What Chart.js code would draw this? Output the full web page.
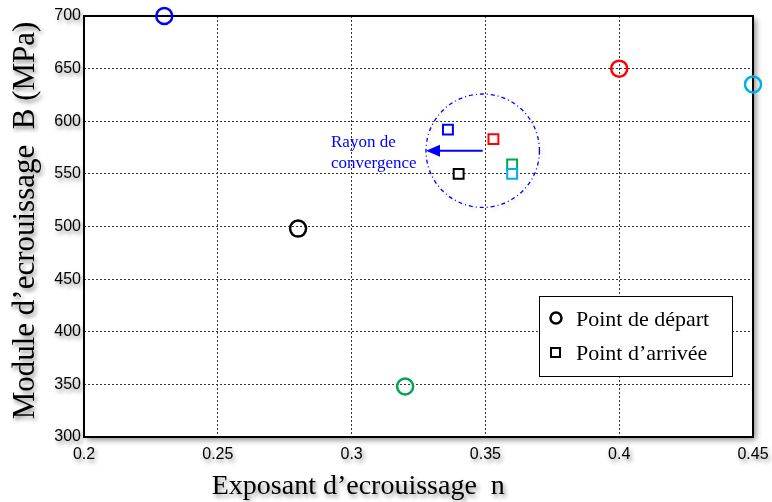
<!DOCTYPE html>
<html lang="fr">
<head>
    <title>Module d'ecrouissage vs exposant</title>
    <meta charset="UTF-8">
    <!-- Chart.js -->
    <script src="https://cdn.jsdelivr.net/npm/chart.js"></script>
    <style>
        html, body { margin: 0; padding: 0; background: #fff; }
        #wrap { width: 772px; height: 502px; }
    </style>
</head>
<body>
    <div id="wrap"><canvas id="chart"></canvas></div>

    <script>
        // Point de départ (cercles)
        const departN = [0.23, 0.28, 0.32, 0.40, 0.45];
        const departB = [700, 498, 348, 650, 635];
        const departColors = ['#0000ff', '#000000', '#00a651', '#ff0000', '#00aeef'];

        // Point d'arrivée (carrés)
        const arriveeN = [0.336, 0.353, 0.36, 0.36, 0.34];
        const arriveeB = [592, 583, 559, 550, 550];
        const arriveeColors = ['#0000ff', '#ff0000', '#00a651', '#00aeef', '#000000'];

        // Axes
        const xTicks = [0.2, 0.25, 0.3, 0.35, 0.4, 0.45];
        const yTicks = [300, 350, 400, 450, 500, 550, 600, 650, 700];
        const xTitle = 'Exposant d’ecrouissage  n';
        const yTitle = 'Module d’ecrouissage  B (MPa)';

        // Rayon de convergence (centre n, B et rayon en unités de n)
        const convergenceCenter = [0.349, 572];
        const convergenceRadius = 0.0212;
        const convergenceText = ['Rayon de', 'convergence'];

        const legendLabels = ['Point de départ', 'Point d’arrivée'];

        const serif = '"Liberation Serif", "Times New Roman", serif';
        const sans = '"Liberation Sans", Arial, sans-serif';

        function setShadow(ctx) {
            ctx.shadowColor = 'rgba(0,0,0,0.45)';
            ctx.shadowBlur = 4;
            ctx.shadowOffsetX = 2;
            ctx.shadowOffsetY = 3;
        }

        function clearShadow(ctx) {
            ctx.shadowColor = 'rgba(0,0,0,0)';
            ctx.shadowBlur = 0;
            ctx.shadowOffsetX = 0;
            ctx.shadowOffsetY = 0;
        }

        // Frame, convergence circle, arrow, legend box, axis titles
        const decorPlugin = {
            id: 'decor',
            beforeDraw(chart) {
                const { ctx, chartArea: a } = chart;
                ctx.save();
                setShadow(ctx);
                ctx.shadowBlur = 6;
                ctx.shadowOffsetX = 3;
                ctx.fillStyle = '#fff';
                ctx.fillRect(a.left, a.top, a.right - a.left, a.bottom - a.top);
                ctx.restore();
            },
            beforeDatasetsDraw(chart) {
                const { ctx, chartArea: a, scales: { x, y } } = chart;

                // frame
                ctx.save();
                ctx.strokeStyle = '#000';
                ctx.lineWidth = 2;
                ctx.strokeRect(a.left, a.top, a.right - a.left, a.bottom - a.top);
                ctx.restore();

                // dash-dot circle
                const cx = x.getPixelForValue(convergenceCenter[0]);
                const cy = y.getPixelForValue(convergenceCenter[1]);
                const r = x.getPixelForValue(convergenceCenter[0] + convergenceRadius) - cx;
                ctx.save();
                ctx.shadowColor = 'rgba(0,0,0,0.2)';
                ctx.shadowBlur = 4;
                ctx.shadowOffsetX = 2;
                ctx.shadowOffsetY = 2;
                ctx.strokeStyle = '#0000ff';
                ctx.lineWidth = 1.3;
                ctx.setLineDash([4, 3, 1, 3]);
                ctx.beginPath();
                ctx.arc(cx, cy, r, 0, Math.PI * 2);
                ctx.stroke();
                ctx.restore();

                // arrow from centre to the left edge
                const tipX = cx - r;
                ctx.save();
                ctx.strokeStyle = '#0000ff';
                ctx.fillStyle = '#0000ff';
                ctx.lineWidth = 2;
                ctx.beginPath();
                ctx.moveTo(cx, cy);
                ctx.lineTo(tipX + 12, cy);
                ctx.stroke();
                ctx.beginPath();
                ctx.moveTo(tipX, cy);
                ctx.lineTo(tipX + 14, cy - 6);
                ctx.lineTo(tipX + 14, cy + 6);
                ctx.closePath();
                ctx.fill();

                ctx.font = '17px ' + serif;
                ctx.textAlign = 'left';
                ctx.textBaseline = 'alphabetic';
                ctx.fillText(convergenceText[0], tipX - 95, cy - 4);
                ctx.fillText(convergenceText[1], tipX - 95, cy + 17);
                ctx.restore();

                // legend box
                const bw = 193, bh = 80;
                const bx = a.right - 21 - bw;
                const by = a.bottom - 61 - bh;
                ctx.save();
                ctx.fillStyle = '#fff';
                ctx.fillRect(bx, by, bw, bh);
                ctx.strokeStyle = '#000';
                ctx.lineWidth = 1;
                ctx.strokeRect(bx + 0.5, by + 0.5, bw, bh);

                ctx.strokeStyle = '#000';
                ctx.lineWidth = 2.5;
                ctx.beginPath();
                ctx.arc(bx + 17, by + 22, 5.5, 0, Math.PI * 2);
                ctx.stroke();
                ctx.lineWidth = 2;
                ctx.strokeRect(bx + 12, by + 52, 9, 9);

                ctx.fillStyle = '#000';
                ctx.font = '22px ' + serif;
                ctx.textBaseline = 'alphabetic';
                ctx.fillText(legendLabels[0], bx + 37, by + 30);
                ctx.fillText(legendLabels[1], bx + 37, by + 64);
                ctx.restore();
            },
            afterDatasetsDraw(chart) {
                // tick labels are drawn after this (ticks.z = 1): give them a shadow
                setShadow(chart.ctx);
            },
            afterDraw(chart) {
                const { ctx, chartArea: a } = chart;
                ctx.save();
                setShadow(ctx);
                ctx.fillStyle = '#000';
                ctx.font = '28px ' + serif;
                ctx.textAlign = 'center';
                ctx.textBaseline = 'alphabetic';
                ctx.fillText(xTitle, a.left + (a.right - a.left) * 0.41, a.bottom + 57);

                ctx.font = '31px ' + serif;
                ctx.translate(34, (a.top + a.bottom) / 2 - 6);
                ctx.rotate(-Math.PI / 2);
                ctx.fillText(yTitle, 0, 0);
                ctx.restore();
                clearShadow(ctx);
            }
        };

        const ctx = document.getElementById('chart').getContext('2d');
        const chart = new Chart(ctx, {
            type: 'scatter',
            data: {
                datasets: [
                    {
                        label: legendLabels[0],
                        data: departN.map((n, i) => ({ x: n, y: departB[i] })),
                        pointStyle: 'circle',
                        pointRadius: 8,
                        pointBorderWidth: 2.5,
                        pointBorderColor: departColors,
                        pointBackgroundColor: 'rgba(255,255,255,0)',
                        clip: false,
                    },
                    {
                        label: legendLabels[1],
                        data: arriveeN.map((n, i) => ({ x: n, y: arriveeB[i] })),
                        pointStyle: 'rect',
                        pointRadius: 7,
                        pointBorderWidth: 2,
                        pointBorderColor: arriveeColors,
                        pointBackgroundColor: '#fff',
                        clip: false,
                    },
                ],
            },
            options: {
                responsive: true,
                maintainAspectRatio: false,
                animation: false,
                layout: { padding: { top: 16, right: 19, left: 0, bottom: 0 } },
                plugins: {
                    legend: { display: false },
                    tooltip: { enabled: false },
                },
                scales: {
                    x: {
                        type: 'linear',
                        min: xTicks[0],
                        max: xTicks[xTicks.length - 1],
                        afterBuildTicks: s => { s.ticks = xTicks.map(v => ({ value: v })); },
                        afterFit: s => { s.height = 65; s.paddingLeft = 0; s.paddingRight = 0; },
                        grid: { color: '#333', lineWidth: 1, drawTicks: false },
                        border: { display: false, dash: [2, 2] },
                        ticks: {
                            z: 1,
                            padding: 8,
                            color: '#000',
                            maxRotation: 0,
                            font: { family: sans, size: 16 },
                            callback: v => String(+v.toFixed(2)),
                        },
                    },
                    y: {
                        type: 'linear',
                        min: yTicks[0],
                        max: yTicks[yTicks.length - 1],
                        afterBuildTicks: s => { s.ticks = yTicks.map(v => ({ value: v })); },
                        afterFit: s => { s.width = 84; s.paddingTop = 0; s.paddingBottom = 0; },
                        grid: { color: '#333', lineWidth: 1, drawTicks: false },
                        border: { display: false, dash: [2, 2] },
                        ticks: {
                            z: 1,
                            padding: 3,
                            color: '#000',
                            font: { family: sans, size: 16 },
                        },
                    },
                },
            },
            plugins: [decorPlugin],
        });
    </script>
</body>
</html>
